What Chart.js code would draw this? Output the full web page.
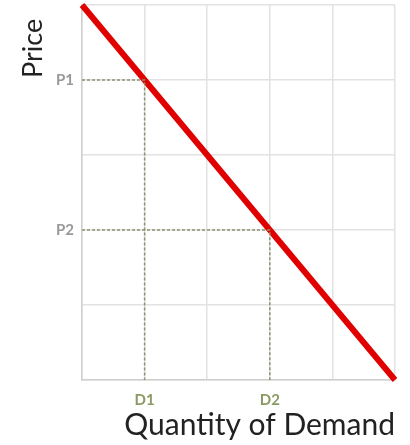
<!DOCTYPE html>
<html>
<head>
<meta charset="utf-8">
<script src="https://cdn.jsdelivr.net/npm/chart.js@4"></script>
<style>
  html, body { margin: 0; padding: 0; background: #fff; }
  #wrap { width: 410px; height: 445px; }
</style>
</head>
<body>
<div id="wrap"><canvas id="chartDemand" width="410" height="445"></canvas></div>
<script>
// demand curve end points
let demandQty = [0, 5];
let demandPrice = [5, 0];

// marked price levels and their quantities
let priceLevels = [4, 2];
let priceLabels = ['P1', 'P2'];
let qtyLevels = [1, 3];
let qtyLabels = ['D1', 'D2'];

let axisMax = 5;

let curvePoints = [];
for (let i = 0; i < demandQty.length; i++) {
    curvePoints.push({ x: demandQty[i], y: demandPrice[i] });
}

let datasets = [];

// dashed guide lines P -> curve -> D
for (let i = 0; i < priceLevels.length; i++) {
    datasets.push({
        data: [
            { x: 0, y: priceLevels[i] },
            { x: qtyLevels[i], y: priceLevels[i] },
            { x: qtyLevels[i], y: 0 }
        ],
        showLine: true,
        borderColor: '#8c9470',
        borderWidth: 1.5,
        borderDash: [3, 2],
        pointRadius: 0,
        fill: false
    });
}

datasets.push({
    data: curvePoints,
    showLine: true,
    borderColor: '#e00000',
    borderWidth: 6,
    pointRadius: 0,
    fill: false,
    clip: false
});

let context = document.querySelector('#chartDemand').getContext('2d');

let config = {
    type: 'scatter',
    data: { datasets: datasets },
    options: {
        responsive: false,
        animation: false,
        layout: { padding: { left: 0, right: 15, top: 5, bottom: 0 } },
        plugins: {
            legend: { display: false },
            tooltip: { enabled: false }
        },
        scales: {
            x: {
                type: 'linear',
                min: 0,
                max: axisMax,
                afterFit: (scale) => {
                    scale.height = 65;
                    scale.paddingLeft = 0;
                    scale.paddingRight = 0;
                },
                grid: { color: '#e2e2e2', lineWidth: 1.5, drawTicks: false },
                border: { color: '#cfcfcf', width: 1.5 },
                ticks: {
                    stepSize: 1,
                    autoSkip: false,
                    maxRotation: 0,
                    padding: 11,
                    color: '#8a9a62',
                    font: { family: 'Lato', size: 15, weight: 'bold' },
                    callback: (v) => {
                        let idx = qtyLevels.indexOf(v);
                        return idx >= 0 ? qtyLabels[idx] : '';
                    }
                },
                title: {
                    display: true,
                    text: 'Quantity of Demand',
                    align: 'end',
                    color: '#222',
                    font: { family: 'Lato', size: 30 },
                    padding: { top: 0, bottom: 2 }
                }
            },
            y: {
                type: 'linear',
                min: 0,
                max: axisMax,
                afterFit: (scale) => {
                    scale.width = 82;
                    scale.paddingTop = 0;
                    scale.paddingBottom = 0;
                },
                grid: { color: '#e2e2e2', lineWidth: 1.5, drawTicks: false },
                border: { color: '#cfcfcf', width: 1.5 },
                ticks: {
                    stepSize: 1,
                    autoSkip: false,
                    padding: 8,
                    color: '#999999',
                    font: { family: 'Lato', size: 15, weight: 'bold' },
                    callback: (v) => {
                        let idx = priceLevels.indexOf(v);
                        return idx >= 0 ? priceLabels[idx] : '';
                    }
                },
                title: {
                    display: true,
                    text: 'Price  ',
                    align: 'end',
                    color: '#222',
                    font: { family: 'Lato', size: 27 },
                    padding: { top: 17, bottom: 0 }
                }
            }
        }
    }
};

let chartDemand = new Chart(context, config);
</script>
</body>
</html>
